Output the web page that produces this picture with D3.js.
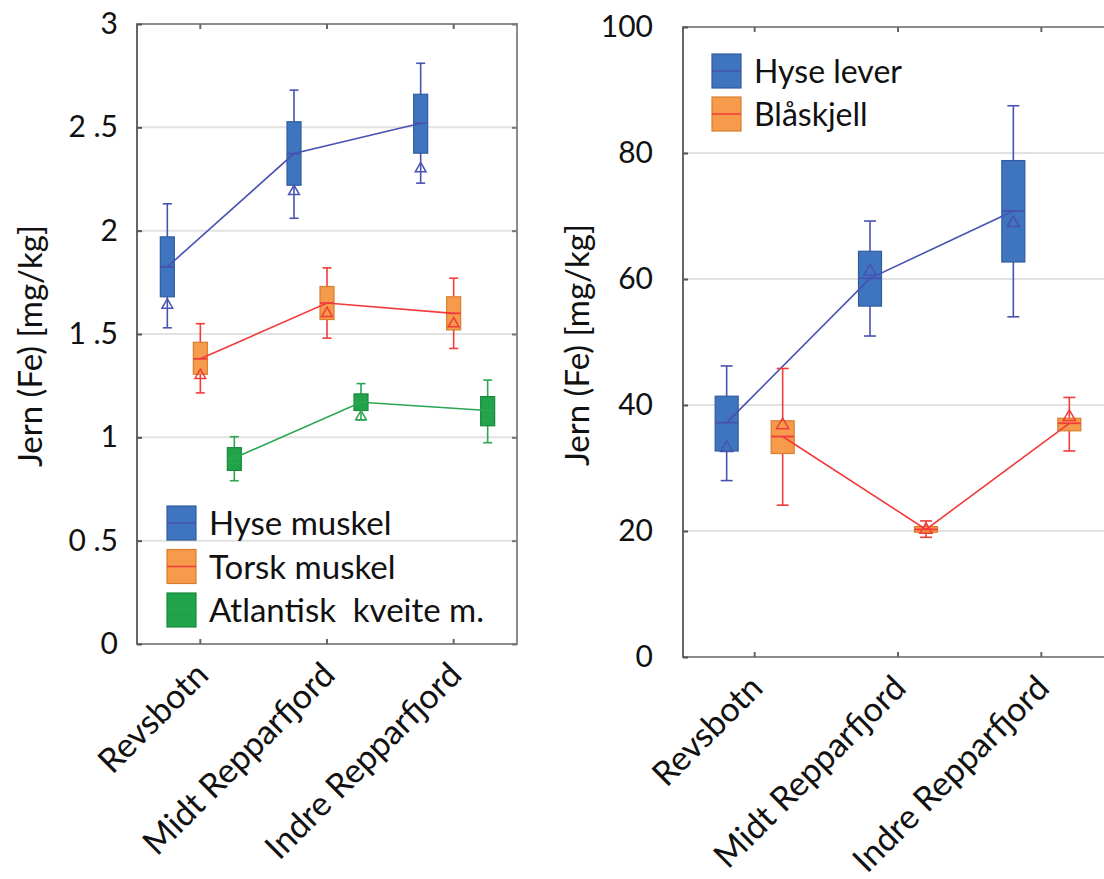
<!DOCTYPE html>
<html><head><meta charset="utf-8">
<script src="https://cdn.jsdelivr.net/npm/d3@7"></script>
<style>
body{margin:0;background:#fff;overflow:hidden}
text{font-family:Lato, "Open Sans", sans-serif; fill:#111; white-space:pre}
</style>
</head><body><svg id="c" width="1104" height="879"></svg>
<script>
// ---------- data ----------
const categories = ["Revsbotn", "Midt Repparfjord", "Indre Repparfjord"];
// each entry: [whisker low, Q1, median, Q3, whisker high, mean]
const hyseMuskel   = [[1.53, 1.68, 1.825, 1.97, 2.13, 1.64], [2.06, 2.22, 2.373, 2.527, 2.68, 2.19], [2.23, 2.375, 2.52, 2.66, 2.81, 2.30]];
const torskMuskel  = [[1.215, 1.305, 1.38, 1.46, 1.55, 1.30], [1.48, 1.57, 1.65, 1.73, 1.82, 1.60], [1.43, 1.52, 1.60, 1.68, 1.77, 1.55]];
const kveiteMuskel = [[0.79, 0.84, 0.90, 0.95, 1.003, 0.89], [1.084, 1.13, 1.17, 1.21, 1.26, 1.10], [0.974, 1.056, 1.13, 1.197, 1.277, 1.10]];
const hyseLever    = [[28.0, 32.7, 37.2, 41.4, 46.2, 33.2], [50.95, 55.7, 60.1, 64.4, 69.2, 61.2], [54.0, 62.7, 70.8, 78.8, 87.5, 68.9]];
const blaskjell    = [[24.1, 32.3, 35.0, 37.5, 45.8, 36.8], [19.0, 19.8, 20.25, 20.7, 21.6, 20.2], [32.7, 35.9, 37.1, 37.9, 41.2, 38.1]];
const leftTicks = [0, 0.5, 1, 1.5, 2, 2.5, 3];
const leftTickLabels = ["0", "0 .5", "1", "1 .5", "2", "2 .5", "3"];
const rightTicks = [0, 20, 40, 60, 80, 100];
const rightTickLabels = ["0", "20", "40", "60", "80", "100"];
const leftLegend = ["Hyse muskel", "Torsk muskel", "Atlantisk  kveite m."];
const rightLegend = ["Hyse lever", "Blåskjell"];
const yTitle = "Jern (Fe) [mg/kg]";

// ---------- styles ----------
const BLUE = {fill: "#3f74bf", stroke: "#2f5d9f", line: "#4852b2"};
const ORANGE = {fill: "#f69a4c", stroke: "#d97f2e", line: "#f23b3b"};
const GREEN = {fill: "#20a34b", stroke: "#168a3a", line: "#2ba550"};

const svg = d3.select("#c");

function panel(cfg) {
  const g = svg.append("g");
  const x = d3.scaleBand().domain(categories).range([cfg.x0, cfg.x1]).padding(0);
  const y = d3.scaleLinear().domain([0, cfg.ymax]).range([cfg.y0, cfg.y1]);
  const cx = c => x(c) + x.bandwidth() / 2;

  // gridlines
  g.append("g").selectAll("line").data(cfg.ticks.filter(t => t > 0 && t < cfg.ymax)).join("line")
    .attr("x1", cfg.x0).attr("x2", cfg.x1).attr("y1", d => y(d)).attr("y2", d => y(d))
    .attr("stroke", "#e2e2e2").attr("stroke-width", 2);

  // frame
  g.append("rect").attr("x", cfg.x0).attr("y", cfg.y1).attr("width", cfg.x1 - cfg.x0).attr("height", cfg.y0 - cfg.y1)
    .attr("fill", "none").attr("stroke", "#8c8c8c").attr("stroke-width", 2);
  g.append("line").attr("x1", cfg.x0).attr("x2", cfg.x0).attr("y1", cfg.y1).attr("y2", cfg.y0)
    .attr("stroke", "#666").attr("stroke-width", 2);

  // y axis
  const yAxis = d3.axisLeft(y).tickValues(cfg.ticks).tickFormat((d, i) => cfg.tickLabels[i])
    .tickSizeInner(-5).tickSizeOuter(0).tickPadding(cfg.tickPad);
  const ya = g.append("g").attr("transform", `translate(${cfg.x0},0)`).call(yAxis);
  ya.select(".domain").remove();
  ya.selectAll("line").attr("stroke", "#555").attr("stroke-width", 2);
  ya.selectAll("text").attr("font-size", cfg.tickFont).attr("font-family", "Lato").attr("fill", "#111");
  // right side ticks
  const yAxisR = d3.axisRight(y).tickValues(cfg.ticks).tickFormat("").tickSizeInner(-5).tickSizeOuter(0);
  const yr = g.append("g").attr("transform", `translate(${cfg.x1},0)`).call(yAxisR);
  yr.select(".domain").remove();
  yr.selectAll("line").attr("stroke", "#777").attr("stroke-width", 2);

  // x axis ticks (inward, bottom and top)
  const xb = g.append("g").attr("transform", `translate(0,${cfg.y0})`)
    .call(d3.axisBottom(x).tickSizeInner(-5).tickSizeOuter(0).tickFormat(""));
  xb.select(".domain").remove();
  xb.selectAll("line").attr("stroke", "#666").attr("stroke-width", 2);
  const xt = g.append("g").attr("transform", `translate(0,${cfg.y1})`)
    .call(d3.axisTop(x).tickSizeInner(-5).tickSizeOuter(0).tickFormat(""));
  xt.select(".domain").remove();
  xt.selectAll("line").attr("stroke", "#666").attr("stroke-width", 2);

  // category labels
  g.append("g").selectAll("text").data(categories).join("text")
    .attr("transform", d => `translate(${cx(d) + 10},${cfg.y0 + 33}) rotate(-45)`)
    .attr("text-anchor", "end").attr("font-size", cfg.catFont).text(d => d);

  // y title
  g.append("text").attr("transform", `translate(${cfg.titleX},${cfg.titleY}) rotate(-90)`)
    .attr("text-anchor", "middle").attr("font-size", cfg.titleFont).text(yTitle);

  // series
  cfg.series.forEach(s => {
    const sg = g.append("g");
    const pts = s.data.map((d, i) => ({c: categories[i], d, px: cx(categories[i]) + s.offset}));
    pts.forEach(p => {
      const [lo, q1, med, q3, hi, mean] = p.d;
      sg.append("line").attr("x1", p.px).attr("x2", p.px).attr("y1", y(lo)).attr("y2", y(hi))
        .attr("stroke", s.style.line).attr("stroke-width", 1.6);
      [lo, hi].forEach(v => sg.append("line").attr("x1", p.px - s.cap / 2).attr("x2", p.px + s.cap / 2)
        .attr("y1", y(v)).attr("y2", y(v)).attr("stroke", s.style.line).attr("stroke-width", 1.6));
      sg.append("rect").attr("x", p.px - s.w / 2).attr("width", s.w)
        .attr("y", y(q3)).attr("height", y(q1) - y(q3))
        .attr("fill", s.style.fill).attr("stroke", s.style.stroke).attr("stroke-width", 1.2);
      sg.append("line").attr("x1", p.px - s.w / 2).attr("x2", p.px + s.w / 2)
        .attr("y1", y(med)).attr("y2", y(med)).attr("stroke", s.style.line).attr("stroke-width", 1.8);
    });
    sg.append("path").datum(pts)
      .attr("d", d3.line().x(p => p.px).y(p => y(p.d[2])))
      .attr("fill", "none").attr("stroke", s.style.line).attr("stroke-width", 1.6);
    const tri = d3.symbol().type(d3.symbolTriangle).size(s.tri);
    sg.selectAll(".m").data(pts).join("path")
      .attr("transform", p => `translate(${p.px},${y(p.d[5])})`)
      .attr("d", tri).attr("fill", "none").attr("stroke", s.style.line).attr("stroke-width", 1.5);
  });

  // legend
  cfg.legend.forEach((name, i) => {
    const st = cfg.legendStyles[i];
    const ly = cfg.legY + i * cfg.legStep;
    g.append("rect").attr("x", cfg.legX).attr("y", ly).attr("width", 29).attr("height", 34)
      .attr("fill", st.fill).attr("stroke", st.stroke).attr("stroke-width", 1.2);
    g.append("line").attr("x1", cfg.legX).attr("x2", cfg.legX + 29).attr("y1", ly + 17).attr("y2", ly + 17)
      .attr("stroke", st.line).attr("stroke-width", 1.5);
    g.append("text").attr("x", cfg.legX + 42).attr("y", ly + 29).attr("font-size", cfg.legFont)
      .attr("xml:space", "preserve").text(name);
  });
}

panel({
  x0: 137, x1: 517, y0: 644, y1: 24, ymax: 3,
  ticks: leftTicks, tickLabels: leftTickLabels, tickPad: 19, tickFont: 30,
  catFont: 34, titleFont: 33, titleX: 42, titleY: 346,
  series: [
    {data: hyseMuskel, style: BLUE, offset: -33, w: 14, cap: 9, tri: 50},
    {data: torskMuskel, style: ORANGE, offset: 0, w: 14, cap: 9, tri: 50},
    {data: kveiteMuskel, style: GREEN, offset: 34, w: 14, cap: 9, tri: 50}
  ],
  legend: leftLegend, legendStyles: [BLUE, ORANGE, GREEN],
  legX: 167, legY: 506, legStep: 43.5, legFont: 33
});

panel({
  x0: 683, x1: 1113, y0: 657, y1: 27, ymax: 100,
  ticks: rightTicks, tickLabels: rightTickLabels, tickPad: 30, tickFont: 30,
  catFont: 34, titleFont: 33, titleX: 589, titleY: 345,
  series: [
    {data: hyseLever, style: BLUE, offset: -28, w: 23, cap: 12, tri: 65},
    {data: blaskjell, style: ORANGE, offset: 28, w: 23, cap: 12, tri: 65}
  ],
  legend: rightLegend, legendStyles: [BLUE, ORANGE],
  legX: 712, legY: 54, legStep: 43, legFont: 32
});
</script>
</body></html>
